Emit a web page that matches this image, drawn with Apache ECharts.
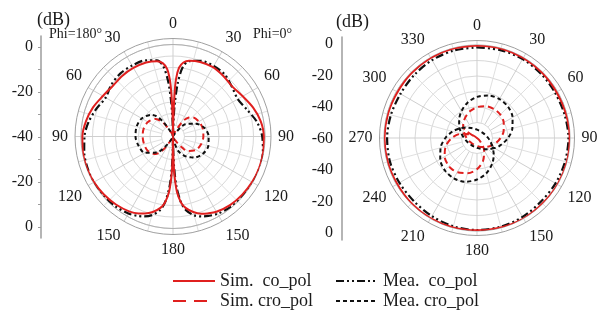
<!DOCTYPE html>
<html>
<head>
<meta charset="utf-8">
<script src="https://cdn.jsdelivr.net/npm/echarts@6/dist/echarts.min.js"></script>
<style>
  html, body { margin: 0; padding: 0; background: #ffffff; }
  #chart { width: 610px; height: 320px; }
</style>
</head>
<body>
<div id="chart"></div>
<script>
// ---- E-plane (left): theta measured from broadside, phi = 0° half on the right, phi = 180° half on the left
const eCoTheta = [0, 1, 2, 3, 5, 8, 12, 20, 30, 40, 50, 60, 70, 80, 90, 100, 110, 120, 130, 140, 150, 156, 160, 165, 170, 173, 176, 178, 179, 180];
const eSimCoPhi0   = [-40, -33, -22, -15, -10, -7.5, -6.3, -5.5, -5.2, -5.8, -6.3, -5, -3, -1.3, -0.5, -0.2, -0.1, -0.3, -0.7, -1.2, -2.2, -3.4, -4.3, -6, -8.5, -11, -16, -24, -32, -40];
const eSimCoPhi180 = [-40, -33, -23, -16, -10.5, -7.8, -6.5, -5.8, -5.6, -5.6, -5.8, -4.8, -3, -1.6, -0.6, -0.2, -0.1, -0.3, -0.8, -1.4, -2.3, -3.4, -4.4, -6, -8.5, -11, -16, -24, -32, -40];
const eMeaCoPhi0   = [-40, -37, -32, -26, -17, -9.5, -6.5, -5, -4.6, -4.9, -6.5, -7.5, -5.8, -3, -1.2, -0.3, 0, 0, -0.1, -0.4, -1.2, -2.2, -3, -4.5, -7.5, -11, -18, -27, -34, -40];
const eMeaCoPhi180 = [-40, -37, -31, -25, -16, -9, -6.2, -4.8, -4.4, -4.3, -5, -6.2, -4.6, -2.8, -1.5, -0.8, -0.4, -0.2, -0.3, -0.6, -1.3, -2.2, -3, -4.6, -7.5, -11, -18, -27, -34, -40];

const eXTheta = [0, 10, 20, 28, 32, 35, 40, 45, 60, 75, 90, 105, 120, 135, 140, 145, 150, 160, 170, 180];
const eSimXPhi0   = [-40, -39.5, -38.5, -36, -33, -31, -29.2, -28.1, -27, -26.6, -26.8, -27.3, -28.4, -31, -33.4, -36, -38, -39.3, -39.8, -40];
const eSimXPhi180 = [-40, -39.5, -38.5, -37, -35, -33, -30.8, -29.2, -27.4, -26.8, -26.8, -27, -27.4, -29.2, -30.8, -34, -38, -39.3, -39.8, -40];
const eMeaXPhi0   = [-40, -39.8, -39.6, -39.3, -38.8, -38, -35, -32.5, -28.8, -25.8, -24.5, -24.1, -25, -27, -28.2, -29.2, -30.4, -33.2, -38, -40];
const eMeaXPhi180 = [-40, -39.7, -39, -37, -34, -31.4, -28.3, -26.7, -24.3, -23.6, -23.7, -24.5, -25.8, -30.1, -32.7, -36, -38.5, -39.5, -39.8, -40];

// ---- H-plane (right): full 0..360° cut
const hCoAngle = [0, 15, 30, 45, 60, 75, 90, 105, 120, 135, 150, 165, 180, 195, 210, 225, 240, 255, 270, 285, 300, 315, 330, 345, 360];
const hSimCo = [-0.3, -0.2, -0.3, -0.5, -0.8, -0.5, -0.2, 0, 0, -0.2, 0, -0.3, -0.5, -0.3, -0.2, -0.3, -0.6, -0.4, -0.3, -0.5, -0.8, -0.5, -0.3, -0.3, -0.3];
const hMeaCo = [-1.5, -1.3, -1.2, -1.5, -1.8, -1.5, -1, -1.2, -1.5, -1.8, -1.2, -0.8, -0.6, -1, -1.8, -2.4, -2.2, -1.8, -2, -2.5, -3, -2.6, -2, -1.6, -1.5];

// cross-pol traces, listed in plotting order (one lobe first, then the other)
const hSimXAngle = [129, 135, 150, 165, 180, 195, 210, 219, 225, 240, 255, 270, 285, 300, 309,
                    309, 315, 330, 345, 0, 15, 30, 45, 60, 75, 90, 105, 120, 135, 150, 165, 180, 195, 210, 225, 240, 255, 270, 285, 300, 309];
const hSimX = [-60, -57.3, -50.8, -44.8, -39.9, -36.5, -34.5, -34.2, -34.3, -35.9, -39.1, -43.7, -49.5, -55.9, -60,
               -48.5, -47.4, -44.8, -42.2, -40.1, -38.7, -38.3, -38.7, -40.1, -42.2, -44.8, -47.4, -49.9, -51.9, -53.3, -54.2, -54.9, -55.2, -55.3, -55.2, -54.9, -54.2, -53.3, -51.9, -49.9, -48.5];
const hMeaXAngle = [120, 135, 150, 165, 180, 195, 210, 225, 240, 255, 270, 285, 300, 315, 330, 345, 0, 15, 30, 45, 60, 75, 90, 105, 120,
                    120, 135, 150, 165, 180, 195, 210, 225, 240, 255, 270, 285, 300, 315, 330, 345, 0, 15, 30, 45, 60, 75, 90, 105, 120];
const hMeaX = [-47, -49.7, -51.6, -52.9, -53.6, -54.1, -54.2, -54.1, -53.6, -52.9, -51.6, -49.7, -47, -43.7, -40, -36.4, -33.5, -31.6, -31, -31.6, -33.5, -36.4, -40, -43.7, -47,
               -48.4, -44.7, -40.6, -36.5, -33.2, -30.8, -30, -30.6, -32.6, -35.7, -39.6, -43.7, -47.5, -50.5, -52.5, -53.8, -54.6, -55, -55.2, -55.1, -54.7, -54, -52.8, -51, -48.4];

// ---- radial scale labels beside each plot (top to bottom)
const eScaleLabels = [0, -20, -40, -20, 0];
const hScaleLabels = [0, -20, -40, -60, -40, -20, 0];

// ---- legend entries
const NAME_SIM_CO = 'Sim.  co_pol';
const NAME_MEA_CO = 'Mea.  co_pol';
const NAME_SIM_X  = 'Sim. cro_pol';
const NAME_MEA_X  = 'Mea. cro_pol';

const RED = '#e0201f';
const BLACK = '#111111';
const SERIF = 'Liberation Serif';

// right half (phi=0) runs 0 -> 180, left half (phi=180) returns 180 -> 360
function eCut(theta, phi0, phi180) {
  const pts = theta.map((t, i) => [phi0[i], t]);
  for (let i = theta.length - 1; i >= 0; i--) pts.push([phi180[i], 360 - theta[i]]);
  return pts;
}
function hCut(angle, vals) { return angle.map((a, i) => [vals[i], a]); }

// map a top-to-bottom list of dB labels onto a symmetric vertical scale
function scalePositions(labels) {
  const low = Math.min.apply(null, labels);
  const mid = (labels.length - 1) / 2;
  return labels.map((d, i) => (i <= mid ? 1 : -1) * (d - low));
}
function scaleFormatter(labels) {
  const low = Math.min.apply(null, labels);
  return v => String(Math.round(Math.abs(v) + low));
}

const styles = {
  [NAME_SIM_CO]: { color: RED, width: 2, type: 'solid' },
  [NAME_MEA_CO]: { color: BLACK, width: 2.2, type: [8, 3, 2, 3, 2, 3] },
  [NAME_SIM_X]:  { color: RED, width: 2, type: [6, 4] },
  [NAME_MEA_X]:  { color: BLACK, width: 2, type: [4, 3] }
};

function lineSeries(name, polarIndex, data, z) {
  return {
    type: 'line', name, coordinateSystem: 'polar', polarIndex,
    data, symbol: 'none', smooth: 0.3, z: z || 3,
    lineStyle: Object.assign({}, styles[name]),
    itemStyle: { color: styles[name].color },
    silent: true, animation: false
  };
}

const angleLabel = { fontFamily: SERIF, fontSize: 16, color: '#1a1a1a', margin: 7 };
const plainAngle = { type: 'value', min: 0, max: 360, startAngle: 90, clockwise: true, axisTick: { show: false } };

// data polar: its angle-axis line is the 0 dB circle
function dataAngleAxis(idx) {
  return Object.assign({
    polarIndex: idx,
    axisLine: { show: true, lineStyle: { color: '#b0b0b0', width: 1 } },
    axisLabel: { show: false }, splitLine: { show: false }
  }, plainAngle);
}
// spoke polar: radial grid lines start at the first ring, labels sit outside the frame
function spokeAngleAxis(idx, formatter) {
  return Object.assign({
    polarIndex: idx, interval: 30,
    axisLine: { show: false },
    axisLabel: Object.assign({ formatter }, angleLabel),
    splitLine: { show: true, lineStyle: { color: '#cfcfcf', width: 1 } },
    minorTick: { show: false, splitNumber: 2 },
    minorSplitLine: { show: true, lineStyle: { color: '#e0e0e0', width: 1 } }
  }, plainAngle);
}
// frame polar: only the outer circle
function frameAngleAxis(idx) {
  return Object.assign({
    polarIndex: idx,
    axisLine: { show: true, lineStyle: { color: '#a0a0a0', width: 1 } },
    axisLabel: { show: false }, splitLine: { show: false }
  }, plainAngle);
}
function ringAxis(idx, min, interval) {
  return {
    polarIndex: idx, type: 'value', min, max: 0, interval,
    axisLine: { show: false }, axisTick: { show: false }, axisLabel: { show: false },
    splitLine: { show: true, lineStyle: { color: '#d8d8d8', width: 1 } }
  };
}
function hiddenRadius(idx) {
  return { polarIndex: idx, type: 'value', min: 0, max: 1, axisLine: { show: false }, axisTick: { show: false }, axisLabel: { show: false }, splitLine: { show: false } };
}

const ePos = scalePositions(eScaleLabels);
const hPos = scalePositions(hScaleLabels);
const eTicks = [];
for (let v = -40; v <= 40; v += 10) eTicks.push(v);

// one legend per entry so the two columns line up
function legendEntry(item, left, top) {
  return {
    data: [item], left, top, padding: 0,
    itemWidth: 42, itemHeight: 12, itemGap: 0, selectedMode: false,
    itemStyle: { opacity: 0, borderWidth: 0 },
    textStyle: { fontFamily: SERIF, fontSize: 18, color: '#1a1a1a' }
  };
}

const E_CENTER = [173, 136.5];
const H_CENTER = [477, 138];

const option = {
  backgroundColor: '#ffffff',
  animation: false,
  polar: [
    { center: E_CENTER, radius: 92 },
    { center: E_CENTER, radius: [11.5, 98] },
    { center: E_CENTER, radius: 98 },
    { center: H_CENTER, radius: 93 },
    { center: H_CENTER, radius: [15.5, 97.5] },
    { center: H_CENTER, radius: 97.5 }
  ],
  angleAxis: [
    dataAngleAxis(0),
    spokeAngleAxis(1, v => (v >= 360 ? '' : String(v <= 180 ? v : 360 - v))),
    frameAngleAxis(2),
    dataAngleAxis(3),
    spokeAngleAxis(4, v => (v >= 360 ? '' : String(v))),
    frameAngleAxis(5)
  ],
  radiusAxis: [
    ringAxis(0, -40, 5), hiddenRadius(1), hiddenRadius(2),
    ringAxis(3, -60, 10), hiddenRadius(4), hiddenRadius(5)
  ],
  grid: [
    { left: 41, top: 36, width: 1, height: 202 },
    { left: 342, top: 37, width: 1, height: 203 }
  ],
  xAxis: [
    { gridIndex: 0, type: 'value', show: false },
    { gridIndex: 1, type: 'value', show: false }
  ],
  yAxis: [
    {
      gridIndex: 0, type: 'value', min: -44.9, max: 44.9,
      axisLine: { show: true, lineStyle: { color: '#9c9c9c', width: 1.5 } },
      axisTick: { show: true, customValues: eTicks, length: 3, lineStyle: { color: '#9c9c9c' } },
      axisLabel: { customValues: ePos, formatter: scaleFormatter(eScaleLabels), margin: 8, fontFamily: SERIF, fontSize: 16, color: '#1a1a1a' },
      splitLine: { show: false }
    },
    {
      gridIndex: 1, type: 'value', min: -64.4, max: 64.4,
      axisLine: { show: true, lineStyle: { color: '#9c9c9c', width: 1.5 } },
      axisTick: { show: false },
      axisLabel: { customValues: hPos, formatter: scaleFormatter(hScaleLabels), margin: 9, fontFamily: SERIF, fontSize: 16, color: '#1a1a1a' },
      splitLine: { show: false }
    }
  ],
  legend: [
    legendEntry(NAME_SIM_CO, 172, 272),
    legendEntry(NAME_MEA_CO, 335, 272),
    legendEntry({ name: NAME_SIM_X, lineStyle: { type: [13, 8] } }, 172, 292),
    legendEntry(NAME_MEA_X, 335, 292)
  ],
  graphic: [
    { type: 'text', left: 37, top: 11, style: { text: '(dB)', font: '18px "Liberation Serif"', fill: '#1a1a1a' } },
    { type: 'text', left: 336, top: 13, style: { text: '(dB)', font: '18px "Liberation Serif"', fill: '#1a1a1a' } },
    { type: 'text', left: 49, top: 27, style: { text: 'Phi=180°', font: '14px "Liberation Serif"', fill: '#1a1a1a' } },
    { type: 'text', left: 253, top: 27, style: { text: 'Phi=0°', font: '14px "Liberation Serif"', fill: '#1a1a1a' } }
  ],
  series: [
    lineSeries(NAME_SIM_X, 0, eCut(eXTheta, eSimXPhi0, eSimXPhi180), 3),
    lineSeries(NAME_MEA_X, 0, eCut(eXTheta, eMeaXPhi0, eMeaXPhi180), 3),
    lineSeries(NAME_MEA_CO, 0, eCut(eCoTheta, eMeaCoPhi0, eMeaCoPhi180), 4),
    lineSeries(NAME_SIM_CO, 0, eCut(eCoTheta, eSimCoPhi0, eSimCoPhi180), 5),
    lineSeries(NAME_SIM_X, 3, hCut(hSimXAngle, hSimX), 3),
    lineSeries(NAME_MEA_X, 3, hCut(hMeaXAngle, hMeaX), 3),
    lineSeries(NAME_MEA_CO, 3, hCut(hCoAngle, hMeaCo), 4),
    lineSeries(NAME_SIM_CO, 3, hCut(hCoAngle, hSimCo), 5)
  ]
};

const chart = echarts.init(document.getElementById('chart'), null, { renderer: 'canvas' });
chart.setOption(option);
</script>
</body>
</html>
